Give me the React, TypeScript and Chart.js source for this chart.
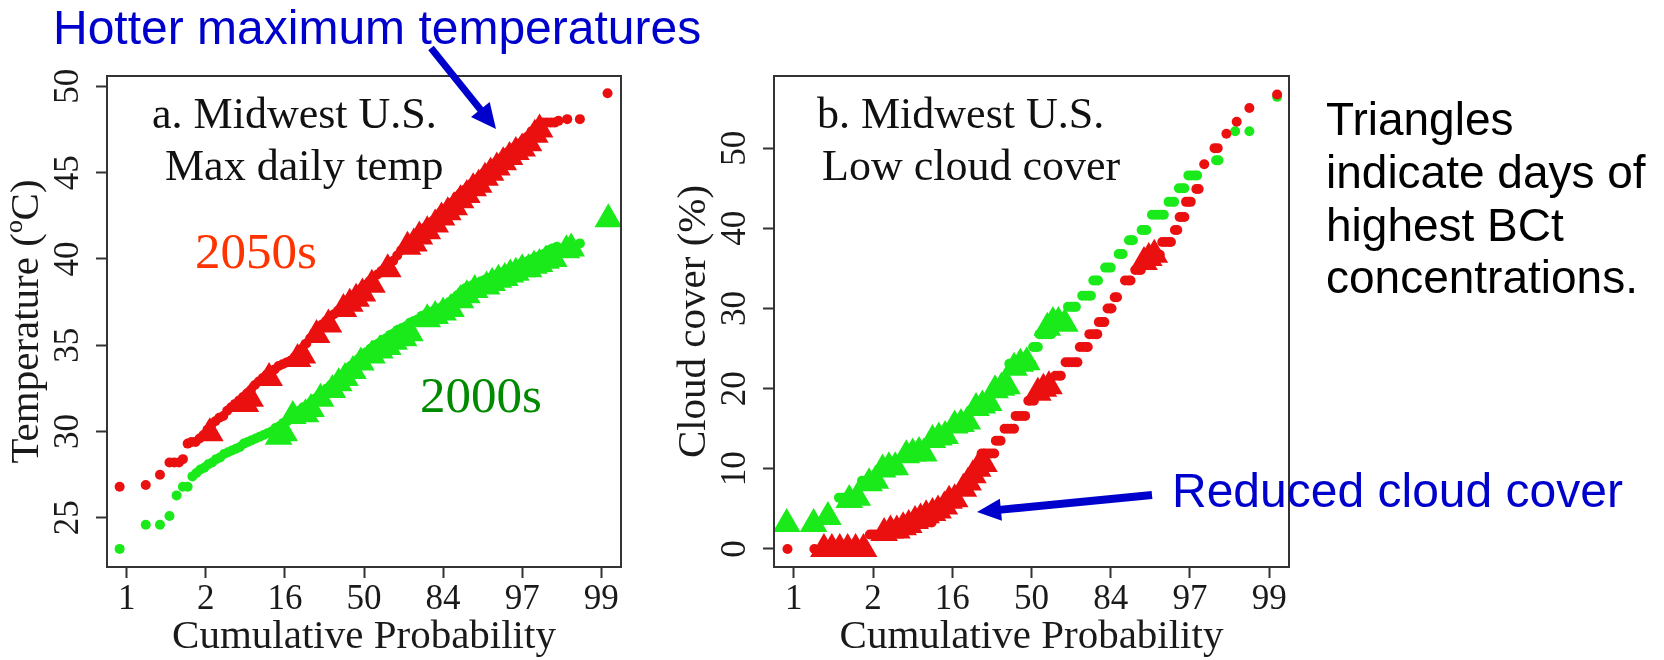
import React, { useEffect, useRef } from "react";
import { Chart, registerables } from "chart.js";

Chart.register(...registerables);

const SERIF = "'Liberation Serif', 'Times New Roman', serif";
const SANS = "'Liberation Sans', Arial, sans-serif";
const RED = "#ea1010";
const GREEN = "#1aea1a";
const BLUE = "#0000cc";
const AXIS = "#333333";
const TXT = "#1a1a1a";

type Pt = [number, number];

// x axis: normal quantile (probit) positions with cumulative-probability labels
const probTicks = [-3, -2, -1, 0, 1, 2, 3];
const probTickLabels = ["1", "2", "16", "50", "84", "97", "99"];
const tempTicks = [25, 30, 35, 40, 45, 50];
const cloudTicks = [0, 10, 20, 30, 40, 50];

// Panel a: max daily temperature (°C)
const temp2050Dots: Pt[] = [
  [-3.09, 26.8], [-2.76, 26.9], [-2.58, 27.5], [-2.46, 28.2], [-2.4, 28.2], [-2.34, 28.2], [-2.29, 28.4],
  [-2.23, 29.3], [-2.18, 29.4], [-2.13, 29.4], [-2.08, 29.6], [-2.03, 29.8], [-1.98, 30.1], [-1.93, 30.4],
  [-1.88, 30.6], [-1.83, 30.8], [-1.78, 30.9], [-1.73, 31.2], [-1.68, 31.4], [-1.63, 31.6], [-1.58, 31.8],
  [-1.53, 32.0], [-1.48, 32.2], [-1.43, 32.4], [-1.38, 32.7], [-1.33, 32.9], [-1.28, 33.1], [-1.23, 33.3],
  [-1.18, 33.5], [-1.13, 33.6], [-1.08, 33.8], [-1.03, 33.9], [-0.98, 34.0], [-0.93, 34.1], [-0.88, 34.3],
  [-0.83, 34.5], [-0.78, 34.8], [-0.73, 35.1], [-0.68, 35.4], [-0.63, 35.7], [-0.58, 35.9], [-0.53, 36.2],
  [-0.48, 36.4], [-0.43, 36.6], [-0.38, 36.8], [-0.33, 37.0], [-0.28, 37.2], [-0.23, 37.5], [-0.18, 37.7],
  [-0.13, 37.9], [-0.08, 38.1], [-0.03, 38.3], [0.02, 38.5], [0.07, 38.7], [0.12, 38.9], [0.17, 39.1],
  [0.22, 39.3], [0.27, 39.5], [0.32, 39.7], [0.37, 39.9], [0.42, 40.2], [0.47, 40.5], [0.52, 40.7],
  [0.57, 41.0], [0.62, 41.2], [0.67, 41.4], [0.72, 41.6], [0.77, 41.8], [0.82, 42.0], [0.87, 42.2],
  [0.92, 42.4], [0.97, 42.7], [1.02, 42.9], [1.07, 43.1], [1.12, 43.3], [1.17, 43.6], [1.22, 43.8],
  [1.27, 44.0], [1.32, 44.2], [1.37, 44.4], [1.42, 44.6], [1.47, 44.8], [1.52, 45.0], [1.57, 45.2],
  [1.62, 45.4], [1.67, 45.6], [1.72, 45.8], [1.77, 46.0], [1.82, 46.2], [1.87, 46.4], [1.92, 46.5],
  [1.97, 46.7], [2.02, 46.9], [2.07, 47.1], [2.12, 47.4], [2.17, 47.6], [2.21, 47.8], [2.26, 47.9],
  [2.31, 47.9], [2.36, 47.9], [2.41, 47.9], [2.46, 48.0], [2.57, 48.1], [2.73, 48.1], [3.08, 49.6],
];
const temp2050Tri: Pt[] = [
  [-1.95, 29.9], [-1.5, 31.6], [-1.44, 31.9], [-1.2, 33.1], [-0.84, 34.2], [-0.78, 34.4], [-0.6, 35.6],
  [-0.45, 36.2], [-0.26, 37.1], [-0.18, 37.4], [-0.1, 37.7], [-0.02, 38.0], [0.1, 38.5], [0.3, 39.4],
  [0.55, 40.7], [0.63, 40.9], [0.7, 41.3], [0.8, 41.6], [0.9, 42.0], [0.98, 42.4], [1.06, 42.7],
  [1.14, 43.0], [1.22, 43.4], [1.3, 43.7], [1.38, 44.1], [1.45, 44.3], [1.53, 44.7], [1.6, 45.0],
  [1.68, 45.3], [1.76, 45.6], [1.84, 45.9], [1.92, 46.2], [2.0, 46.4], [2.08, 46.7], [2.16, 47.2],
  [2.22, 47.5],
];
const temp2000Dots: Pt[] = [
  [-3.09, 23.2], [-2.76, 24.6], [-2.58, 24.6], [-2.46, 25.1], [-2.37, 26.3], [-2.29, 26.8], [-2.23, 26.8],
  [-2.17, 27.4], [-2.12, 27.6], [-2.07, 27.8], [-2.02, 27.9], [-1.97, 28.1], [-1.92, 28.2], [-1.87, 28.4],
  [-1.82, 28.5], [-1.77, 28.7], [-1.72, 28.8], [-1.67, 28.9], [-1.62, 29.0], [-1.57, 29.1], [-1.52, 29.3],
  [-1.47, 29.4], [-1.42, 29.5], [-1.37, 29.6], [-1.32, 29.7], [-1.27, 29.8], [-1.22, 29.9], [-1.17, 30.0],
  [-1.12, 30.2], [-1.07, 30.3], [-1.02, 30.5], [-0.97, 30.6], [-0.92, 30.8], [-0.87, 31.0], [-0.82, 31.2],
  [-0.77, 31.4], [-0.72, 31.5], [-0.67, 31.7], [-0.62, 31.9], [-0.57, 32.1], [-0.52, 32.3], [-0.47, 32.5],
  [-0.42, 32.7], [-0.37, 32.9], [-0.32, 33.1], [-0.27, 33.3], [-0.22, 33.6], [-0.17, 33.8], [-0.12, 34.0],
  [-0.07, 34.2], [-0.02, 34.4], [0.03, 34.6], [0.08, 34.8], [0.13, 35.0], [0.18, 35.1], [0.23, 35.3],
  [0.28, 35.4], [0.33, 35.6], [0.38, 35.7], [0.43, 35.9], [0.48, 36.0], [0.53, 36.1], [0.58, 36.3],
  [0.63, 36.4], [0.68, 36.5], [0.73, 36.7], [0.78, 36.8], [0.83, 36.9], [0.88, 37.0], [0.93, 37.1],
  [0.98, 37.2], [1.03, 37.3], [1.08, 37.5], [1.13, 37.7], [1.18, 37.9], [1.23, 38.1], [1.28, 38.3],
  [1.33, 38.4], [1.38, 38.5], [1.43, 38.6], [1.48, 38.7], [1.53, 38.8], [1.58, 38.9], [1.63, 39.0],
  [1.68, 39.1], [1.73, 39.2], [1.78, 39.3], [1.83, 39.4], [1.88, 39.5], [1.93, 39.6], [1.98, 39.7],
  [2.03, 39.8], [2.08, 39.9], [2.13, 40.0], [2.18, 40.1], [2.23, 40.2], [2.28, 40.3], [2.33, 40.5],
  [2.38, 40.6], [2.44, 40.7], [2.73, 40.9],
];
const temp2000Tri: Pt[] = [
  [-1.08, 29.7], [-1.01, 29.9], [-0.9, 30.9], [-0.74, 31.0], [-0.67, 31.3], [-0.55, 31.9], [-0.4, 32.4],
  [-0.32, 32.8], [-0.24, 33.1], [-0.14, 33.5], [-0.04, 34.0], [0.1, 34.4], [0.2, 34.7], [0.3, 34.9],
  [0.38, 35.2], [0.5, 35.4], [0.58, 35.7], [0.8, 36.5], [0.9, 36.7], [1.0, 36.9], [1.1, 37.1],
  [1.22, 37.6], [1.3, 37.9], [1.4, 38.2], [1.55, 38.4], [1.62, 38.6], [1.7, 38.8], [1.78, 38.9],
  [1.85, 39.1], [1.92, 39.2], [2.0, 39.4], [2.08, 39.4], [2.15, 39.6], [2.22, 39.7], [2.3, 39.9],
  [2.4, 40.0], [2.56, 40.5], [2.62, 40.6], [3.09, 42.3],
];

// Panel b: low cloud cover (%)
const cloud2050Dots: Pt[] = [
  [-3.08, 0], [-2.74, 0], [-2.04, 1.8], [-2.0, 1.8], [-1.96, 1.8], [-1.3, 3.3], [-1.26, 3.3],
  [-1.02, 6.7], [-0.98, 6.7], [-0.94, 6.7], [-0.63, 11.9], [-0.59, 11.9], [-0.55, 11.9], [-0.51, 11.9],
  [-0.47, 11.9], [-0.45, 13.5], [-0.42, 13.5], [-0.39, 13.5], [-0.34, 15.0], [-0.3, 15.0], [-0.26, 15.0],
  [-0.22, 15.0], [-0.2, 16.6], [-0.16, 16.6], [-0.12, 16.6], [-0.08, 16.6], [-0.04, 18.5], [-0.01, 18.5],
  [0.03, 18.5], [0.3, 21.6], [0.34, 21.6], [0.37, 21.6], [0.43, 23.3], [0.47, 23.3], [0.51, 23.3],
  [0.55, 23.3], [0.58, 23.3], [0.61, 25.2], [0.65, 25.2], [0.69, 25.2], [0.71, 25.2], [0.73, 26.8],
  [0.77, 26.8], [0.81, 26.8], [0.83, 26.8], [0.85, 28.3], [0.89, 28.3], [0.92, 28.3], [0.96, 30.0],
  [0.99, 30.0], [1.01, 30.0], [1.05, 31.4], [1.08, 31.4], [1.18, 33.5], [1.22, 33.5], [1.25, 33.5],
  [1.31, 34.8], [1.35, 34.8], [1.38, 34.8], [1.62, 36.7], [1.65, 38.3], [1.69, 38.3], [1.73, 38.3],
  [1.76, 38.3], [1.81, 39.8], [1.84, 39.8], [1.87, 41.4], [1.9, 41.4], [1.93, 41.4], [1.95, 43.3],
  [1.98, 43.3], [2.01, 43.3], [2.08, 44.9], [2.11, 44.9], [2.18, 48.0], [2.31, 50.0], [2.35, 50.0],
  [2.46, 51.8], [2.59, 53.3], [2.75, 55.0], [3.1, 56.7],
];
const cloud2050Tri: Pt[] = [
  [-2.62, 0], [-2.52, 0], [-2.42, 0], [-2.32, 0], [-2.22, 0], [-2.12, 0], [-1.86, 2.0], [-1.78, 2.3],
  [-1.7, 2.3], [-1.62, 2.7], [-1.55, 3.0], [-1.47, 3.5], [-1.4, 3.8], [-1.33, 4.2], [-1.25, 4.5],
  [-1.18, 4.8], [-1.1, 5.3], [-1.04, 6.0], [-0.97, 6.2], [-0.86, 7.5], [-0.8, 8.3], [-0.74, 9.2],
  [-0.68, 10.0], [-0.6, 10.6], [0.08, 19.5], [0.15, 20.0], [0.22, 20.3], [1.42, 35.8], [1.48, 36.3],
  [1.55, 36.7],
];
const cloud2000Dots: Pt[] = [
  [-2.43, 6.4], [-2.39, 6.4], [-2.35, 6.4], [-2.31, 6.4], [-2.27, 6.4], [-2.23, 6.4], [-2.14, 8.5],
  [-2.1, 8.5], [-2.06, 8.5], [-2.02, 8.5], [-1.98, 8.5], [-1.94, 8.5], [-1.89, 10.2], [-1.85, 10.2],
  [-1.81, 10.2], [-1.77, 10.2], [-1.73, 10.2], [-1.69, 10.2], [-1.55, 11.9], [-1.51, 11.9], [-1.47, 11.9],
  [-1.43, 11.9], [-1.39, 11.9], [-1.35, 11.9], [-1.25, 13.9], [-1.21, 13.9], [-1.17, 13.9], [-1.13, 13.9],
  [-1.09, 13.9], [-1.06, 13.9], [-0.96, 15.6], [-0.92, 15.6], [-0.88, 15.6], [-0.84, 15.6], [-0.8, 15.6],
  [-0.77, 15.6], [-0.71, 17.9], [-0.67, 17.9], [-0.63, 17.9], [-0.59, 17.9], [-0.55, 17.9], [-0.52, 17.9],
  [-0.48, 20.1], [-0.44, 20.1], [-0.4, 20.1], [-0.36, 20.1], [-0.32, 20.1], [-0.28, 23.1], [-0.24, 23.1],
  [-0.2, 23.1], [-0.16, 23.1], [-0.12, 23.1], [-0.08, 23.1], [-0.04, 23.1], [0.0, 23.1], [0.02, 25.2],
  [0.05, 25.2], [0.08, 25.2], [0.1, 26.8], [0.14, 26.8], [0.18, 26.8], [0.22, 26.8], [0.25, 26.8],
  [0.27, 28.3], [0.31, 28.3], [0.35, 28.3], [0.39, 28.3], [0.43, 28.3], [0.46, 30.2], [0.5, 30.2],
  [0.53, 30.2], [0.56, 30.2], [0.64, 31.6], [0.68, 31.6], [0.72, 31.6], [0.75, 31.6], [0.78, 33.5],
  [0.81, 33.5], [0.84, 33.5], [0.93, 35.1], [0.97, 35.1], [1.0, 35.1], [1.1, 36.8], [1.13, 36.8],
  [1.15, 36.8], [1.23, 38.5], [1.26, 38.5], [1.28, 38.5], [1.39, 39.8], [1.42, 39.8], [1.45, 39.8],
  [1.52, 41.7], [1.56, 41.7], [1.6, 41.7], [1.64, 41.7], [1.67, 41.7], [1.73, 43.3], [1.77, 43.3],
  [1.8, 43.3], [1.86, 45.0], [1.9, 45.0], [1.93, 45.0], [1.98, 46.6], [2.02, 46.6], [2.06, 46.6],
  [2.09, 46.6], [2.33, 48.5], [2.36, 48.5], [2.57, 52.1], [2.75, 52.1], [3.1, 56.4],
];
const cloud2000Tri: Pt[] = [
  [-3.09, 3.1], [-2.75, 3.1], [-2.57, 4.0], [-2.3, 6.1], [-2.2, 6.4], [-2.05, 8.2], [-1.97, 8.5],
  [-1.88, 9.9], [-1.8, 10.2], [-1.72, 10.2], [-1.58, 11.7], [-1.5, 11.9], [-1.42, 12.1], [-1.36, 11.9],
  [-1.25, 13.6], [-1.17, 13.9], [-1.09, 14.1], [-0.97, 15.4], [-0.89, 15.6], [-0.81, 15.9], [-0.7, 17.6],
  [-0.62, 17.9], [-0.54, 18.2], [-0.46, 19.8], [-0.38, 20.1], [-0.31, 20.3], [-0.22, 22.6], [-0.14, 23.1],
  [-0.06, 23.3], [0.2, 27.6], [0.27, 28.3], [0.34, 28.3], [0.42, 28.1],
];

const boxPlugin = {
  id: "plotBox",
  afterDatasetsDraw(chart: any) {
    const { ctx, chartArea } = chart;
    ctx.save();
    ctx.strokeStyle = AXIS;
    ctx.lineWidth = 2;
    ctx.strokeRect(chartArea.left, chartArea.top, chartArea.right - chartArea.left, chartArea.bottom - chartArea.top);
    ctx.restore();
  },
};

type PanelProps = {
  left: number;
  width: number;
  axisWidth: number;
  padRight: number;
  yMin: number;
  yMax: number;
  yTicks: number[];
  yTitle: string;
  yTitlePad: number;
  dots2050: Pt[];
  tri2050: Pt[];
  dots2000: Pt[];
  tri2000: Pt[];
};

function ScatterPanel(p: PanelProps) {
  const ref = useRef<HTMLCanvasElement>(null);
  useEffect(() => {
    const toXY = (a: Pt[]) => a.map(([x, y]) => ({ x, y }));
    const ds = (data: Pt[], style: string, r: number, color: string) => ({
      data: toXY(data),
      pointStyle: style,
      pointRadius: r,
      pointHoverRadius: r,
      pointBackgroundColor: color,
      pointBorderColor: color,
      pointBorderWidth: 0,
      showLine: false,
      clip: 0,
    });
    const grid = { drawOnChartArea: false, drawTicks: true, tickLength: 11, tickWidth: 2, tickColor: AXIS };
    const chart = new Chart(ref.current as HTMLCanvasElement, {
      type: "scatter",
      data: {
        datasets: [
          ds(p.tri2050, "triangle", 16, RED),
          ds(p.dots2050, "circle", 5, RED),
          ds(p.tri2000, "triangle", 16, GREEN),
          ds(p.dots2000, "circle", 5, GREEN),
        ] as any,
      },
      options: {
        animation: false,
        responsive: false,
        maintainAspectRatio: false,
        devicePixelRatio: 1,
        events: [],
        layout: { padding: { top: 76, right: p.padRight, bottom: 0, left: 0 } },
        plugins: { legend: { display: false }, tooltip: { enabled: false } },
        scales: {
          x: {
            type: "linear",
            min: -3.25,
            max: 3.25,
            afterBuildTicks: (s: any) => {
              s.ticks = probTicks.map((v) => ({ value: v }));
            },
            afterFit: (s: any) => {
              s.height = 93;
            },
            grid,
            border: { display: false },
            ticks: {
              autoSkip: false,
              maxRotation: 0,
              minRotation: 0,
              padding: 1,
              color: TXT,
              font: { family: SERIF, size: 35 },
              callback: (_v: any, i: number) => probTickLabels[i],
            },
            title: {
              display: true,
              text: "Cumulative Probability",
              color: TXT,
              font: { family: SERIF, size: 41, lineHeight: 1 },
              padding: { top: 0, bottom: 2 },
            },
          },
          y: {
            type: "linear",
            min: p.yMin,
            max: p.yMax,
            afterBuildTicks: (s: any) => {
              s.ticks = p.yTicks.map((v) => ({ value: v }));
            },
            afterFit: (s: any) => {
              s.width = p.axisWidth;
            },
            grid,
            border: { display: false },
            ticks: {
              autoSkip: false,
              minRotation: 90,
              maxRotation: 90,
              crossAlign: "center",
              padding: 9.5,
              color: TXT,
              font: { family: SERIF, size: 35 },
              callback: (v: any) => String(v),
            },
            title: {
              display: true,
              text: p.yTitle,
              color: TXT,
              font: { family: SERIF, size: 41, lineHeight: 1 },
              padding: { top: p.yTitlePad, bottom: 0 },
            },
          },
        },
      } as any,
      plugins: [boxPlugin],
    });
    return () => chart.destroy();
  }, []);
  return (
    <canvas
      ref={ref}
      width={p.width}
      height={660}
      style={{ position: "absolute", left: p.left, top: 0, width: p.width, height: 660 }}
    />
  );
}

function arrowHead(sx: number, sy: number, tx: number, ty: number, len: number, half: number) {
  const dx = tx - sx;
  const dy = ty - sy;
  const d = Math.hypot(dx, dy);
  const ux = dx / d;
  const uy = dy / d;
  const bx = tx - ux * len;
  const by = ty - uy * len;
  const px = -uy;
  const py = ux;
  return {
    shaftEnd: [bx + ux * 2, by + uy * 2],
    points: `${tx},${ty} ${bx + px * half},${by + py * half} ${bx - px * half},${by - py * half}`,
  };
}

function Annotations() {
  const a1 = arrowHead(431, 48, 496, 129, 25, 12);
  const a2 = arrowHead(1152, 495, 977, 512, 24, 11);
  const serifText = { fontFamily: SERIF, fill: "#111" } as any;
  return (
    <svg
      width={1664}
      height={660}
      style={{ position: "absolute", left: 0, top: 0, pointerEvents: "none" }}
    >
      <text x={53} y={44} fontFamily={SANS} fontSize={48} fill={BLUE}>
        Hotter maximum temperatures
      </text>
      <line x1={431} y1={48} x2={a1.shaftEnd[0]} y2={a1.shaftEnd[1]} stroke={BLUE} strokeWidth={7} />
      <polygon points={a1.points} fill={BLUE} />

      <text x={152} y={128} fontSize={44} {...serifText}>a. Midwest U.S.</text>
      <text x={165} y={180} fontSize={44} {...serifText}>Max daily temp</text>
      <text x={195} y={268} fontSize={51} fontFamily={SERIF} fill="#ff3300">2050s</text>
      <text x={420} y={412} fontSize={51} fontFamily={SERIF} fill="#008a00">2000s</text>

      <text x={817} y={128} fontSize={44} {...serifText}>b. Midwest U.S.</text>
      <text x={822} y={180} fontSize={44} {...serifText}>Low cloud cover</text>

      <line x1={1152} y1={495} x2={a2.shaftEnd[0]} y2={a2.shaftEnd[1]} stroke={BLUE} strokeWidth={8} />
      <polygon points={a2.points} fill={BLUE} />
      <text x={1172} y={507} fontFamily={SANS} fontSize={48} fill={BLUE}>
        Reduced cloud cover
      </text>

      <text fontFamily={SANS} fontSize={46} fill="#000">
        <tspan x={1326} y={135}>Triangles</tspan>
        <tspan x={1326} y={188}>indicate days of</tspan>
        <tspan x={1326} y={241}>highest BCt</tspan>
        <tspan x={1326} y={293}>concentrations.</tspan>
      </text>
    </svg>
  );
}

export default function App() {
  return (
    <div
      style={{
        position: "fixed",
        left: 0,
        top: 0,
        width: 1664,
        height: 660,
        background: "#ffffff",
        overflow: "hidden",
      }}
    >
      <ScatterPanel
        left={0}
        width={660}
        axisWidth={107}
        padRight={39}
        yMin={22.15}
        yMax={50.6}
        yTicks={tempTicks}
        yTitle="Temperature (ºC)"
        yTitlePad={6.5}
        dots2050={temp2050Dots}
        tri2050={temp2050Tri}
        dots2000={temp2000Dots}
        tri2000={temp2000Tri}
      />
      <ScatterPanel
        left={650}
        width={660}
        axisWidth={124}
        padRight={21}
        yMin={-2.25}
        yMax={59.0}
        yTicks={cloudTicks}
        yTitle="Cloud cover (%)"
        yTitlePad={23.5}
        dots2050={cloud2050Dots}
        tri2050={cloud2050Tri}
        dots2000={cloud2000Dots}
        tri2000={cloud2000Tri}
      />
      <Annotations />
    </div>
  );
}
